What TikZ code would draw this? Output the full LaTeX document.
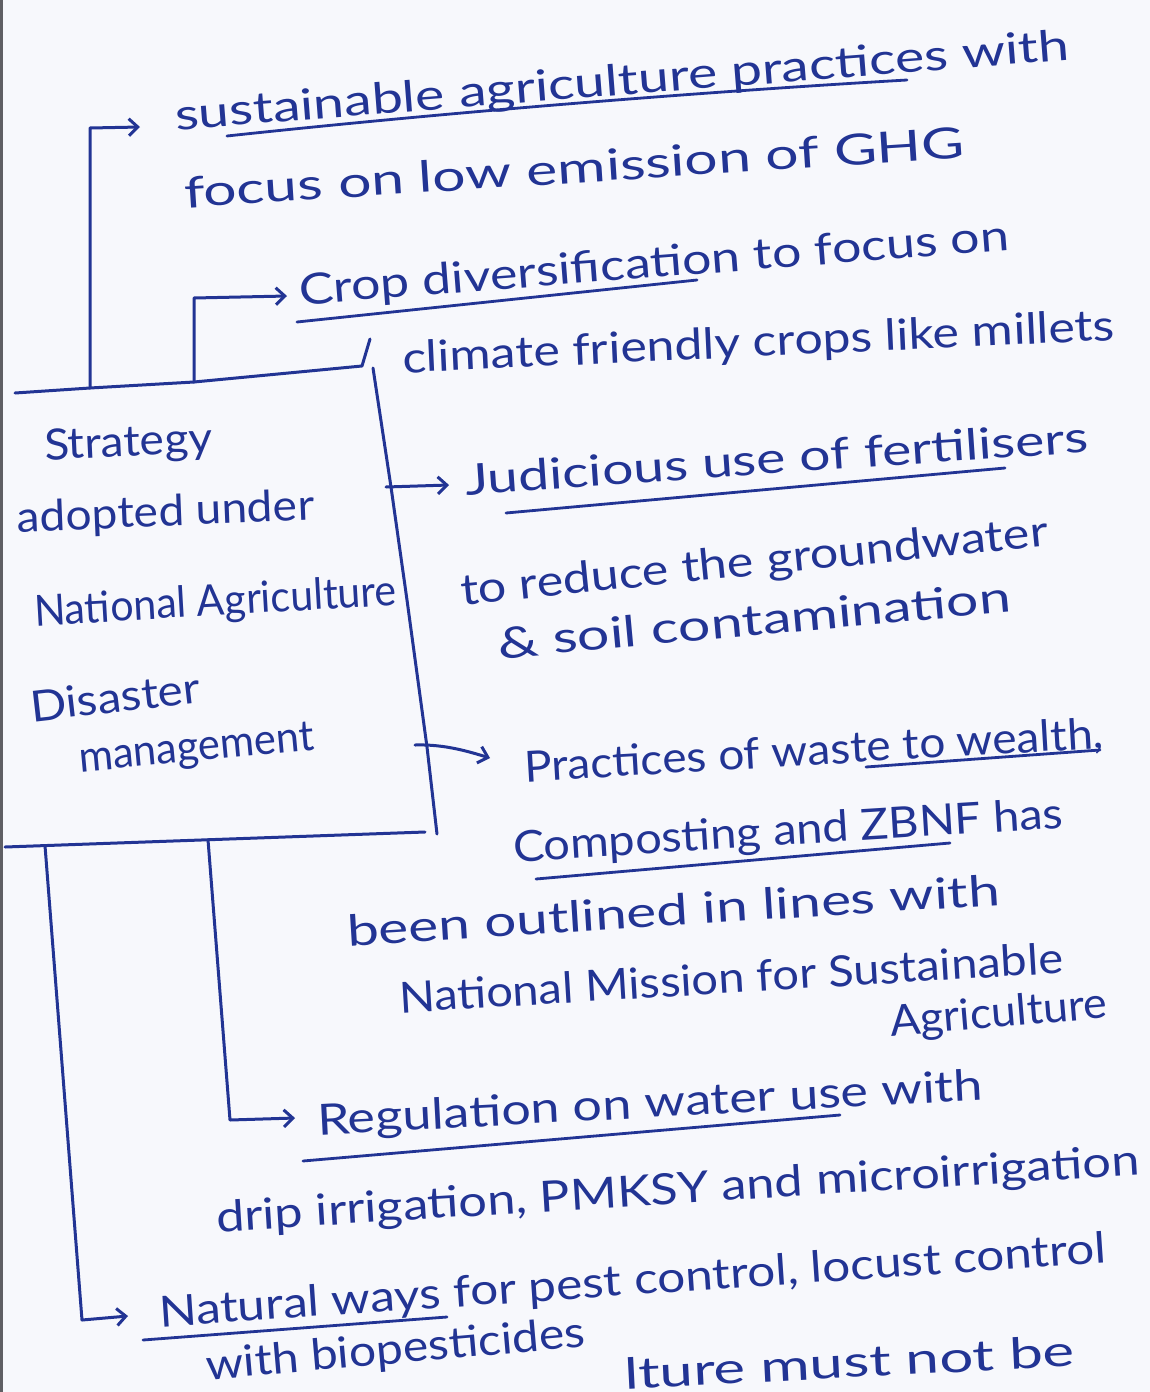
\documentclass[tikz,border=0pt]{standalone}
\usepackage{fontspec}
\setmainfont{Lato}
\usetikzlibrary{arrows.meta}
\definecolor{ink}{RGB}{34,52,148}
\definecolor{paper}{RGB}{247,248,252}
\definecolor{edge}{RGB}{95,95,100}
% set a line of text stretched to a given length (pt), keeping its height
\newcommand{\hand}[2]{\resizebox{#1pt}{\height}{#2}}

\begin{document}
\begin{tikzpicture}[x=1pt,y=-1pt,
  pen/.style={draw=ink,line width=3pt,line cap=round,line join=round},
  arr/.style={pen,-{Straight Barb[length=9pt,width=17pt]}},
  uline/.style={draw=ink,line width=2.8pt,line cap=round},
  note/.style={anchor=base west,inner sep=0pt,outer sep=0pt,text=ink,
    font=\fontsize{43}{47}\selectfont}]

\useasboundingbox (0,0) rectangle (1150,1392);
\fill[paper] (0,0) rectangle (1150,1392);
\fill[edge] (0,0) rectangle (3,1392);
\clip (0,0) rectangle (1150,1392);

% ---- notes ----
\node[note,rotate=4.48] (t1) at (176,130) {\hand{897}{sustainable agriculture practices with}};
\node[note,rotate=3.67] (t2) at (185,208) {\hand{782}{focus on low emission of GHG}};
\node[note,rotate=4.43] (t3) at (300,305) {\hand{712}{Crop diversification to focus on}};
\node[note,rotate=2.65] (t4) at (403,373) {\hand{713}{climate friendly crops like millets}};

\node[note,rotate=2.7] (t5) at (45,460) {\hand{168}{Strategy}};
\node[note,rotate=2.3] (t6) at (18,532) {\hand{297}{adopted under}};
\node[note,rotate=3.3] (t7) at (35,626) {\hand{363}{National Agriculture}};
\node[note,rotate=6.5] (t8) at (32,722) {\hand{171}{Disaster}};
\node[note,rotate=5.3] (t9) at (80,772) {\hand{236}{management}};

\node[note,rotate=3.94] (t10) at (466,495) {\hand{625}{Judicious use of fertilisers}};
\node[note,rotate=5.74] (t11) at (462,605) {\hand{590}{to reduce the groundwater}};
\node[note,rotate=5.23] (t12) at (499,659) {\hand{515}{\& soil contamination}};
\node[note,rotate=3.36] (t13) at (525,782) {\hand{580}{Practices of waste to wealth,}};
\node[note,rotate=3.54] (t14) at (514,862) {\hand{551}{Composting and ZBNF has}};
\node[note,rotate=3.59] (t15) at (348,946) {\hand{654}{been outlined in lines with}};
\node[note,rotate=3.45] (t16) at (400,1013) {\hand{665}{National Mission for Sustainable}};
\node[note,rotate=4.74] (t17) at (891,1036) {\hand{218}{Agriculture}};
\node[note,rotate=3.0] (t18) at (318,1135) {\hand{666}{Regulation on water use with}};
\node[note,rotate=3.53] (t19) at (217,1232) {\hand{925}{drip irrigation, PMKSY and microirrigation}};
\node[note,rotate=3.87] (t20) at (160,1327) {\hand{949}{Natural ways for pest control, locust control}};
\node[note,rotate=5.0] (t21) at (207,1380) {\hand{381}{with biopesticides}};
\node[note,rotate=2.9] (t22) at (625,1389) {\hand{451}{lture must not be}};

% ---- underlines ----
\draw[uline] (227,136) .. controls (450,112) and (700,92) .. (907,80);
\draw[uline] (297,322) -- (697,280);
\draw[uline] (506,513) -- (1005,468);
\draw[uline] (866,767) -- (1100,750);
\draw[uline] (536,879) -- (950,843);
\draw[uline] (303,1161) -- (840,1115);
\draw[uline] (143,1340) -- (447,1317);

% ---- upper bracket ----
\coordinate (h0) at (15,393);
\coordinate (j1) at (90,388);
\coordinate (j2) at (194,382);
\coordinate (hR) at (362,366);
\coordinate (tick) at (370,339);
\draw[pen] (h0) -- (j1) -- (j2) -- (hR) -- (tick);

\coordinate (c1) at (90,128);
\coordinate (a1) at (140,127);
\draw[arr] (j1) -- (c1) -- (a1);
\coordinate (c2) at (194,298);
\coordinate (a2) at (287,296);
\draw[arr] (j2) -- (c2) -- (a2);

% ---- spine ----
\coordinate (s0) at (373,368);
\coordinate (s1) at (391,487);
\coordinate (s2) at (407,600);
\coordinate (s3) at (427,747);
\coordinate (s4) at (437,834);
\draw[pen] (s0) -- (s1) -- (s2) -- (s3) -- (s4);

\coordinate (ja) at (386,487);
\coordinate (jb) at (449,485);
\draw[arr] (ja) -- (jb);
\coordinate (pa) at (415,745);
\coordinate (pb) at (490,758);
\draw[arr] (pa) .. controls (445,744) and (470,752) .. (pb);

% ---- lower bracket ----
\coordinate (b0) at (5,847);
\coordinate (k1) at (45,845.6);
\coordinate (k2) at (208,839.7);
\coordinate (b1) at (425,832);
\draw[pen] (b0) -- (b1);

\coordinate (d1) at (82,1320);
\coordinate (e1) at (128,1316);
\draw[arr] (k1) -- (d1) -- (e1);
\coordinate (d2) at (230,1120);
\coordinate (e2) at (295,1118);
\draw[arr] (k2) -- (d2) -- (e2);
\end{tikzpicture}
\end{document}
